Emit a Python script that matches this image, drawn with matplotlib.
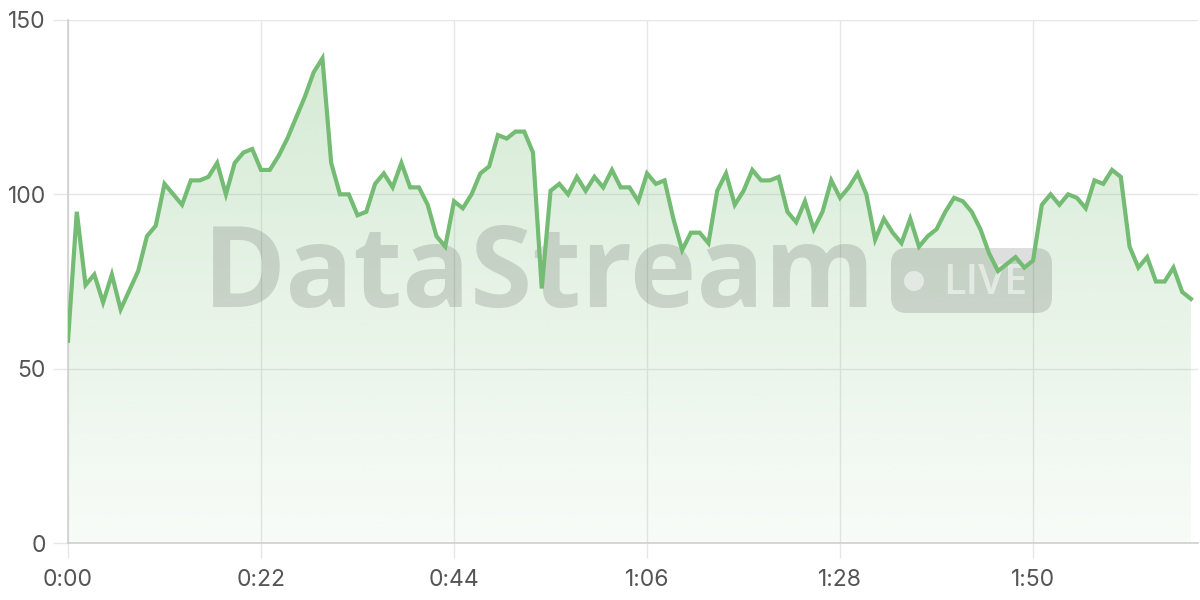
import matplotlib
matplotlib.use("Agg")
import matplotlib.pyplot as plt
import numpy as np
from matplotlib.patches import FancyBboxPatch, Circle
from matplotlib.colors import LinearSegmentedColormap
from matplotlib.transforms import Affine2D

# data: one reading per second
seconds = list(range(129))
values = [58, 95, 74, 77, 69, 77, 67, 72.5, 78, 88,
          91, 103, 100, 97, 104, 104, 105, 109, 100, 109,
          112, 113, 107, 107, 111, 116, 122, 128, 135, 139,
          109, 100, 100, 94, 95, 103, 106, 102, 109, 102,
          102, 97, 88, 85, 98, 96, 100, 106, 108, 117,
          116, 118, 118, 112, 73, 101, 103, 100, 105, 101,
          105, 102, 107, 102, 102, 98, 106, 103, 104, 93,
          84, 89, 89, 86, 101, 106, 97, 101, 107, 104,
          104, 105, 95, 92, 98, 90, 95, 104, 99, 102,
          106, 100, 87, 93, 89, 86, 93, 85, 88, 90,
          95, 99, 98, 95, 90, 83, 78, 80, 82, 79,
          81, 97, 100, 97, 100, 99, 96, 104, 103, 107,
          105, 85, 79, 82, 75, 75, 79, 72, 70]
x_ticks = [0, 22, 44, 66, 88, 110]
x_labels = ["0:00", "0:22", "0:44", "1:06", "1:28", "1:50"]
y_ticks = [0, 50, 100, 150]

LINE = "#74bb74"
GRID = "#e6e6e6"
AXIS = "#cfcfcf"
TXT = "#555555"

W, H = 1200, 600
fig = plt.figure(figsize=(12, 6), dpi=100)
ax = fig.add_axes([68 / W, 1 - 543 / H, (1198 - 68) / W, (543 - 20) / H])
ax.set_xlim(0, 128.8)
ax.set_ylim(0, 150)

# gradient fill under the line
poly = ax.fill_between(seconds, values, 0, color="none", lw=0)
cmap = LinearSegmentedColormap.from_list(
    "g", [(116 / 255, 187 / 255, 116 / 255, 0.05), (116 / 255, 187 / 255, 116 / 255, 0.30)])
grad = np.linspace(0, 1, 256).reshape(-1, 1)
im = ax.imshow(grad, extent=[0, 128, 0, 139], origin="lower", aspect="auto",
               cmap=cmap, zorder=1)
path = poly.get_paths()[0]
im.set_clip_path(path, transform=ax.transData)

ax.plot(seconds, values, color=LINE, lw=3, zorder=4, solid_joinstyle="miter")

ax.set_xticks(x_ticks)
ax.set_xticklabels(x_labels)
ax.set_yticks(y_ticks)
ax.grid(True, color=GRID, lw=1, zorder=0)
ax.set_axisbelow(True)
for s in ["top", "right"]:
    ax.spines[s].set_visible(False)
for s in ["left", "bottom"]:
    ax.spines[s].set_color(AXIS)
    ax.spines[s].set_linewidth(1.2)
ax.tick_params(axis="both", length=11, width=1, color=GRID, labelcolor=TXT,
               labelsize=16.5)
ax.tick_params(axis="x", pad=8)
ax.tick_params(axis="y", pad=5)
for lbl in ax.get_xticklabels() + ax.get_yticklabels():
    lbl.set_family(["Inter", "DejaVu Sans"])

# watermark (pixel coordinates, y from top), drawn beneath the line
px = Affine2D().scale(1, -1).translate(0, H)
ax.text(539 / W, 1 - 277 / H, "DataStream", fontsize=81, fontweight="bold",
        family=["Open Sans", "DejaVu Sans"], color="black", alpha=0.13,
        ha="center", va="center", zorder=3, transform=fig.transFigure, clip_on=False)
box = FancyBboxPatch((891, 248), 161, 65, boxstyle="round,pad=0,rounding_size=16",
                     transform=px, facecolor="black", alpha=0.13,
                     edgecolor="none", zorder=3, clip_on=False)
ax.add_artist(box)
dot = Circle((914, 281), 10, transform=px, facecolor="white", alpha=0.5,
             edgecolor="none", zorder=3, clip_on=False)
ax.add_artist(dot)
ax.text(985 / W, 1 - 283 / H, "LIVE", fontsize=30, fontweight="semibold",
        family=["Open Sans", "DejaVu Sans"], color="white", alpha=0.5,
        ha="center", va="center", zorder=3, transform=fig.transFigure, clip_on=False)

fig.savefig("out.png", dpi=100)
